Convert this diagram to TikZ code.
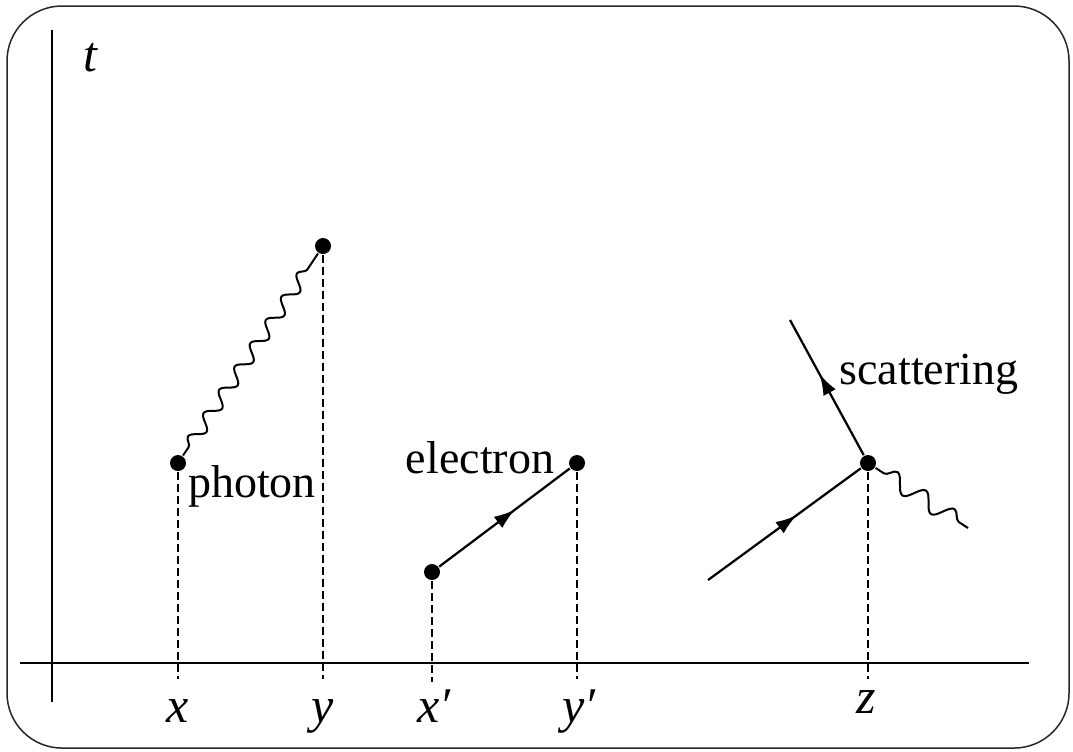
\documentclass[tikz,border=0pt]{standalone}
\usepackage{fontspec}
\setmainfont{Liberation Serif}
\usetikzlibrary{arrows.meta,decorations.pathmorphing,decorations.markings}
\tikzset{
  frame/.style={line width=0.3pt, draw=black!85, rounded corners=11pt},
  axis/.style={line width=0.45pt, draw=black},
  drop/.style={line width=0.4pt, draw=black, dash pattern=on 1.5pt off 0.9pt},
  vertex/.style={circle, fill=black, inner sep=0pt, minimum size=3.2pt},
  fermion/.style={line width=0.45pt, draw=black, postaction={decorate},
    decoration={markings, mark=at position #1 with {\arrow{Latex[length=4.2pt,width=2.8pt]}}}},
  fermion/.default=0.58,
  photon/.style 2 args={line width=0.4pt, draw=black, decorate,
    decoration={snake, amplitude=#2, segment length=#1, pre length=2pt, post length=1.5pt}},
  lbl/.style={font=\fontsize{9.2}{11}\selectfont, inner sep=0pt, anchor=base},
  coord/.style={lbl, font=\fontsize{10}{12}\selectfont\itshape},
}

\begin{document}
\begin{tikzpicture}[x=0.2pt, y=-0.2pt]
  \useasboundingbox (0,0) rectangle (1073,751);
  \draw[frame] (7,6) rectangle (1069,748);
  % axes
  \coordinate (tbot) at (52,702);
  \coordinate (ttop) at (52,30);
  \coordinate (xleft) at (20,663);
  \coordinate (xright) at (1029,663);
  \draw[axis] (tbot) -- (ttop);
  \draw[axis] (xleft) -- (xright);
  \node[coord] (tlab) at (90,71) {t};
  % events
  \node[vertex] (px) at (178,463) {};
  \node[vertex] (py) at (323,246) {};
  \node[vertex] (ex) at (432,572) {};
  \node[vertex] (ey) at (577,463) {};
  \node[vertex] (sz) at (868,463) {};
  % feet on the x axis
  \coordinate (fx) at (178,679);
  \coordinate (fy) at (323,679);
  \coordinate (fxp) at (432,682);
  \coordinate (fyp) at (577,679);
  \coordinate (fz) at (868,679);
  \draw[drop] (px) -- (fx);
  \draw[drop] (py) -- (fy);
  \draw[drop] (ex) -- (fxp);
  \draw[drop] (ey) -- (fyp);
  \draw[drop] (sz) -- (fz);
  % photon
  \draw[photon={5.6pt}{1.3pt}] (px) -- (py);
  \node[lbl] (phlab) at (252,497) {photon};
  % electron
  \draw[fermion] (ex) -- (ey);
  \node[lbl] (ellab) at (480,473) {electron};
  % scattering
  \coordinate (sin) at (708,580);
  \coordinate (sout) at (790,320);
  \coordinate (sgam) at (968,528);
  \draw[fermion=0.58] (sin) -- (sz);
  \draw[fermion=0.6] (sz) -- (sout);
  \draw[photon={6.8pt}{1.7pt}] (sz) -- (sgam);
  \node[lbl] (sclab) at (929,384) {scattering};
  % axis labels
  \node[coord] (lx) at (178,722) {x};
  \node[coord] (ly) at (323,722) {y};
  \node[coord] (lxp) at (434,722) {x′};
  \node[coord] (lyp) at (579,722) {y′};
  \node[coord] (lz) at (866,713) {z};
\end{tikzpicture}
\end{document}
